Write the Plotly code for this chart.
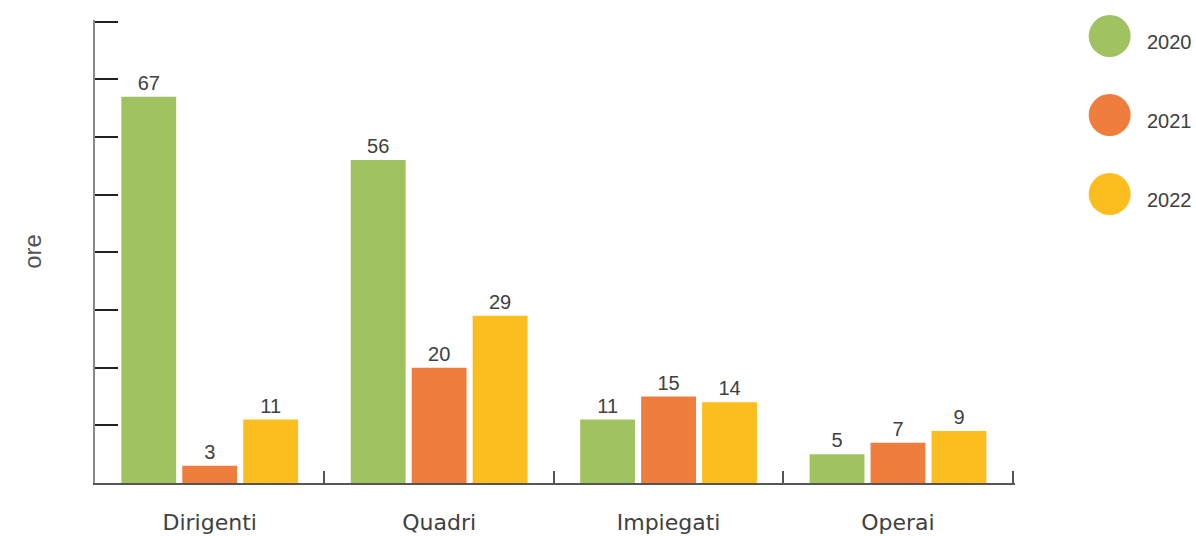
import plotly.graph_objects as go

categories = ["Dirigenti", "Quadri", "Impiegati", "Operai"]
years = ["2020", "2021", "2022"]
values_2020 = [67, 56, 11, 5]
values_2021 = [3, 20, 15, 7]
values_2022 = [11, 29, 14, 9]
colors = ["#A1C261", "#EF7D3D", "#FCBD1F"]

LABEL_FONT = "DejaVu Sans"
NUM_FONT = "Liberation Sans"
TXT = "#404040"

fig = go.Figure()
for yr, vals, col in zip(years, [values_2020, values_2021, values_2022], colors):
    fig.add_trace(go.Bar(
        x=categories, y=vals, name=yr, marker_color=col, marker_line_width=0,
        text=vals, textposition="outside", cliponaxis=False,
        textfont=dict(family=NUM_FONT, size=20, color=TXT),
    ))

# custom legend: big round swatches to the right of the plot
for i, (yr, col) in enumerate(zip(years, colors)):
    yc = 0.9654 - 0.1706 * i
    fig.add_shape(type="circle", xref="paper", yref="paper",
                  xsizemode="pixel", ysizemode="pixel",
                  xanchor=1.1029, yanchor=yc, x0=-21, x1=21, y0=-21, y1=21,
                  fillcolor=col, line_width=0)
    fig.add_annotation(xref="paper", yref="paper", x=1.1409, y=yc, yshift=-6,
                       text=yr, showarrow=False, xanchor="left", yanchor="middle",
                       font=dict(family=NUM_FONT, size=20, color=TXT))

fig.update_layout(
    width=1196, height=536,
    margin=dict(l=95, r=181, t=20, b=53),
    plot_bgcolor="white", paper_bgcolor="white",
    barmode="group", bargap=0.203, bargroupgap=0.1,
    showlegend=False,
    font=dict(family=LABEL_FONT, color=TXT),
)
fig.update_xaxes(
    range=[-0.5, 3.51], automargin=False,
    showline=True, linecolor="#555555", linewidth=2,
    ticks="inside", tickson="boundaries", ticklen=12, tickcolor="#555555", tickwidth=2,
    tickfont=dict(family=LABEL_FONT, size=22, color=TXT), ticklabelstandoff=19,
    showgrid=False,
)
fig.update_yaxes(
    range=[0, 80.3], dtick=10, showticklabels=False, automargin=False,
    showline=True, linecolor="#888888", linewidth=2,
    ticks="inside", ticklen=23, tickcolor="#222222", tickwidth=1.5,
    showgrid=False, zeroline=False,
    title=dict(text="ore", font=dict(family=NUM_FONT, size=24, color="#555555"), standoff=45),
)

fig.write_html("out.html", config={"displayModeBar": False},
               post_script="document.body.style.margin='0';")
